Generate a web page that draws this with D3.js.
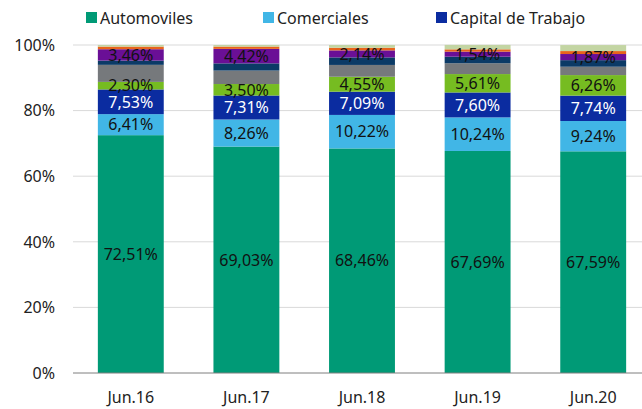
<!DOCTYPE html>
<html><head><meta charset="utf-8">
<script src="https://cdn.jsdelivr.net/npm/d3@7"></script>
<style>
html,body{margin:0;padding:0;background:#fff;}
svg{display:block;font-family:"Noto Sans",sans-serif;}
</style></head>
<body><svg id="c" width="642" height="409"></svg>
<script>
const categories = ["Jun.16","Jun.17","Jun.18","Jun.19","Jun.20"];
const seriesNames = ["Automoviles","Comerciales","Capital de Trabajo","Otros1","Otros2","Otros3","Otros4","Otros5","Otros6"];
const automoviles = [72.51, 69.03, 68.46, 67.69, 67.59];
const comerciales = [6.41, 8.26, 10.22, 10.24, 9.24];
const capitalTrabajo = [7.53, 7.31, 7.09, 7.60, 7.74];
const otros1 = [2.30, 3.50, 4.55, 5.61, 6.26];
const otros2 = [5.2, 4.1, 3.6, 3.3, 2.55];
const otros3 = [1.3, 2.2, 2.3, 2.0, 2.0];
const otros4 = [3.46, 4.42, 2.14, 1.54, 1.87];
const otros5 = [0.8, 0.7, 0.8, 0.7, 0.9];
const otros6 = [0.49, 0.48, 0.84, 1.35, 1.83];
const yTicks = [0, 20, 40, 60, 80, 100];
const legendNames = ["Automoviles","Comerciales","Capital de Trabajo"];

const colors = ["#009a76","#41b6e6","#0b2ca0","#76bc21","#76797c","#0b3a66","#6a0f96","#e8641b","#c3d5a3"];
const labelShown = [true,true,true,true,false,false,true,false,false];
const labelColor = ["#111","#111","#fff","#111",null,null,"#111",null,null];

const allSeries = [automoviles, comerciales, capitalTrabajo, otros1, otros2, otros3, otros4, otros5, otros6];
const table = categories.map((c,i)=>{
  const o = {cat:c};
  seriesNames.forEach((s,k)=>o[s]=allSeries[k][i]);
  return o;
});

const svg = d3.select("#c");
const x = d3.scaleBand().domain(categories).range([73, 651]).paddingInner(0.43).paddingOuter(0.215);
const y = d3.scaleLinear().domain([0,100]).range([373, 45]);

// gridlines
svg.append("g").selectAll("line").data(yTicks.filter(t=>t>0)).join("line")
  .attr("x1",73).attr("x2",642).attr("y1",d=>y(d)).attr("y2",d=>y(d))
  .attr("stroke","#d9d9d9").attr("stroke-width",1);

const stack = d3.stack().keys(seriesNames)(table);
const g = svg.append("g");
stack.forEach((layer,k)=>{
  g.append("g").selectAll("rect").data(layer).join("rect")
    .attr("x",d=>x(d.data.cat)).attr("width",x.bandwidth())
    .attr("y",d=>y(d[1])).attr("height",d=>y(d[0])-y(d[1]))
    .attr("fill",colors[k]);
});
stack.forEach((layer,k)=>{
  if(!labelShown[k]) return;
  g.append("g").selectAll("text").data(layer).join("text")
    .attr("x",d=>x(d.data.cat)+x.bandwidth()/2)
    .attr("y",d=>(y(d[0])+y(d[1]))/2)
    .attr("dy","0.36em")
    .attr("text-anchor","middle")
    .attr("font-size",16)
    .attr("fill",labelColor[k])
    .text(d=>(d[1]-d[0]).toFixed(2).replace(".",",")+"%");
});

// y axis labels
svg.append("g").selectAll("text").data(yTicks).join("text")
  .attr("x",55).attr("y",d=>y(d)).attr("dy","0.36em")
  .attr("text-anchor","end").attr("font-size",16).attr("fill","#222")
  .text(d=>d+"%");

// x axis
const xa = svg.append("g").attr("transform","translate(0,373)")
  .call(d3.axisBottom(x).tickSize(0).tickPadding(19));
xa.select(".domain").attr("stroke","#7f7f7f").attr("d","M73,0H642");
xa.selectAll("text").attr("font-size",16).attr("fill","#222").attr("font-family","Noto Sans");

// legend
const legX = [86, 263, 436];
const lg = svg.append("g").selectAll("g").data(legendNames).join("g")
  .attr("transform",(d,i)=>`translate(${legX[i]},18)`);
lg.append("rect").attr("x",0).attr("y",-6).attr("width",11).attr("height",11).attr("fill",(d,i)=>colors[i]);
lg.append("text").attr("x",14).attr("dy","0.36em").attr("font-size",16).attr("fill","#222").text(d=>d);
</script></body></html>
